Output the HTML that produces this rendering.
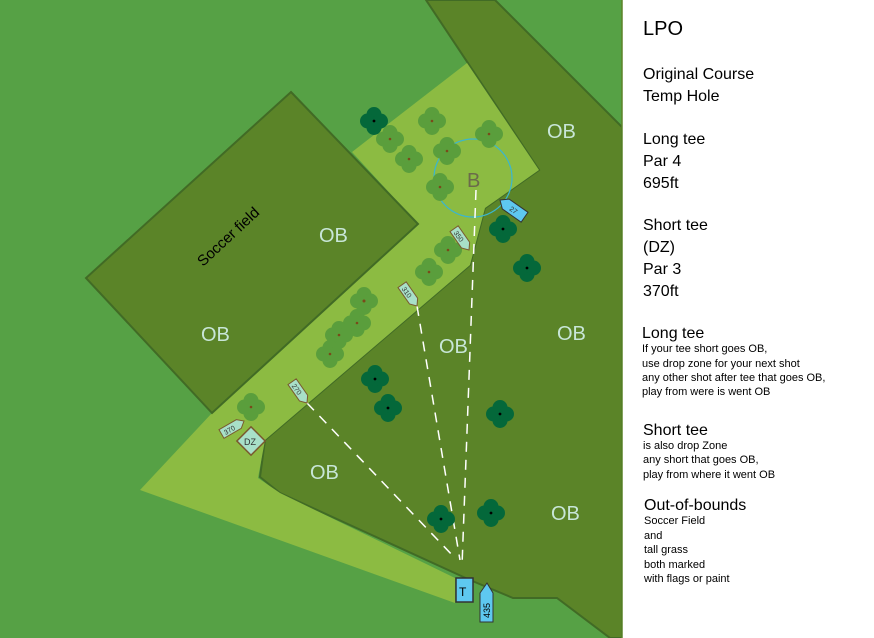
<!DOCTYPE html>
<html><head><meta charset="utf-8"><style>
html,body{margin:0;padding:0;width:874px;height:638px;overflow:hidden;background:#fff;}
svg{display:block}
.t{font-family:"Liberation Sans",sans-serif;}
</style></head><body>
<svg width="874" height="638" viewBox="0 0 874 638" xmlns="http://www.w3.org/2000/svg">
<defs>
<g id="lt"><circle cx="0" cy="-6.5" r="7.5"/><circle cx="0" cy="6.5" r="7.5"/><circle cx="-6.5" cy="0" r="7.5"/><circle cx="6.5" cy="0" r="7.5"/></g>
</defs>
<rect x="0" y="0" width="622" height="638" fill="#56a145"/>
<polygon points="426,0 495,0 622,127 622,638 610,638 557,598 513,598 470,580 280,493 260,477 265,440 470,265 485,208 539,170" fill="#5b8428" stroke="#416b25" stroke-width="2"/>
<polygon points="352,152 467,63 539,170 485,208 470,265 265,440 258,478 280,493 455,578 455,603 140,490 212,413 418,224" fill="#8cbb42"/>
<polygon points="291,92 418,224 212,413 86,278" fill="#5b8428" stroke="#416b25" stroke-width="2"/>
<circle cx="473" cy="178" r="39" fill="none" stroke="#3ab6cf" stroke-width="1.2"/>
<text class="t" x="467" y="187" font-size="20" fill="#6b6b4a">B</text>
<g stroke="#fff" stroke-width="1.5" stroke-dasharray="10,8" fill="none">
<line x1="476" y1="190" x2="462" y2="566"/>
<line x1="417" y1="306" x2="460" y2="560"/>
<line x1="307" y1="403" x2="455" y2="558"/>
</g>
<g fill="#5a9e3c">
<use href="#lt" x="432" y="121"/><use href="#lt" x="390" y="139"/><use href="#lt" x="489" y="134"/>
<use href="#lt" x="409" y="159"/><use href="#lt" x="447" y="151"/><use href="#lt" x="440" y="187"/>
<use href="#lt" x="448" y="250"/><use href="#lt" x="429" y="272"/><use href="#lt" x="364" y="301"/>
<use href="#lt" x="357" y="323"/><use href="#lt" x="339" y="335"/><use href="#lt" x="330" y="354"/>
<use href="#lt" x="251" y="407"/>
</g>
<g fill="#7a4a1a">
<circle cx="432" cy="121" r="1.3"/><circle cx="390" cy="139" r="1.3"/><circle cx="489" cy="134" r="1.3"/>
<circle cx="409" cy="159" r="1.3"/><circle cx="447" cy="151" r="1.3"/><circle cx="440" cy="187" r="1.3"/>
<circle cx="448" cy="250" r="1.3"/><circle cx="429" cy="272" r="1.3"/><circle cx="364" cy="301" r="1.5"/>
<circle cx="357" cy="323" r="1.3"/><circle cx="339" cy="335" r="1.3"/><circle cx="330" cy="354" r="1.3"/>
<circle cx="251" cy="407" r="1.3"/>
</g>
<g fill="#04683a">
<use href="#lt" x="374" y="121"/><use href="#lt" x="503" y="229"/><use href="#lt" x="527" y="268"/>
<use href="#lt" x="375" y="379"/><use href="#lt" x="388" y="408"/><use href="#lt" x="500" y="414"/>
<use href="#lt" x="441" y="519"/><use href="#lt" x="491" y="513"/>
</g>
<g fill="#000">
<circle cx="374" cy="121" r="1.4"/><circle cx="503" cy="229" r="1.4"/><circle cx="527" cy="268" r="1.4"/>
<circle cx="375" cy="379" r="1.4"/><circle cx="388" cy="408" r="1.4"/><circle cx="500" cy="414" r="1.4"/>
<circle cx="441" cy="519" r="1.4"/><circle cx="491" cy="513" r="1.4"/>
</g>
<g class="t" font-size="7" fill="#333">
<g transform="translate(469,250) rotate(-125)"><polygon points="0,0 6,-5 26,-5 26,5 6,5" fill="#a8e0c8" stroke="#7a5a30"/><text x="9" y="3" transform="rotate(180 16 0)">350</text></g>
<g transform="translate(417,306) rotate(-125)"><polygon points="0,0 6,-5 26,-5 26,5 6,5" fill="#a8e0c8" stroke="#7a5a30"/><text x="9" y="3" transform="rotate(180 16 0)">310</text></g>
<g transform="translate(307,403) rotate(-125)"><polygon points="0,0 6,-5 26,-5 26,5 6,5" fill="#a8e0c8" stroke="#7a5a30"/><text x="9" y="3" transform="rotate(180 16 0)">270</text></g>
<g transform="translate(244,421) rotate(150)"><polygon points="0,0 6,-5 26,-5 26,5 6,5" fill="#a8e0c8" stroke="#7a5a30"/><text x="9" y="3" transform="rotate(180 16 0)">370</text></g>
<g transform="translate(500,200) rotate(35)"><polygon points="0,0 7,-6 30,-6 30,6 7,6" fill="#5ec8f0" stroke="#333"/><text x="13" y="3">27</text></g>
</g>
<g transform="translate(251,441) rotate(45)"><rect x="-10" y="-10" width="20" height="20" fill="#a8e0c8" stroke="#7a5a30" stroke-width="1.5"/></g>
<text class="t" x="244" y="445" font-size="9" fill="#333">DZ</text>
<rect x="456" y="578" width="17" height="24" fill="#5ec8f0" stroke="#333" stroke-width="1.5"/>
<text class="t" x="459" y="596" font-size="12" fill="#000">T</text>
<polygon points="480,622 480,593 487,583 493,593 493,622" fill="#5ec8f0" stroke="#333"/>
<text class="t" font-size="9" fill="#000" transform="translate(490,618) rotate(-90)">435</text>
<g class="t" font-size="20" fill="#c8e6d8">
<text x="319" y="242">OB</text>
<text x="201" y="341">OB</text>
<text x="547" y="138">OB</text>
<text x="439" y="353">OB</text>
<text x="557" y="340">OB</text>
<text x="310" y="479">OB</text>
<text x="551" y="520">OB</text>
</g>
<text class="t" font-size="15" fill="#000" transform="translate(203,267) rotate(-43)">Soccer field</text>
<rect x="622" y="0" width="252" height="638" fill="#fff"/>
<line x1="622" y1="0" x2="622" y2="638" stroke="#5b8428" stroke-width="1.5"/>
<g class="t" fill="#000">
<text x="643" y="35" font-size="20">LPO</text>
<text x="643" y="79" font-size="16">Original Course</text>
<text x="643" y="101" font-size="16">Temp Hole</text>
<text x="643" y="144" font-size="16">Long tee</text>
<text x="643" y="166" font-size="16">Par 4</text>
<text x="643" y="188" font-size="16">695ft</text>
<text x="643" y="230" font-size="16">Short tee</text>
<text x="643" y="252" font-size="16">(DZ)</text>
<text x="643" y="274" font-size="16">Par 3</text>
<text x="643" y="296" font-size="16">370ft</text>
<text x="642" y="338" font-size="16">Long tee</text>
<text x="642" y="352" font-size="11">If your tee short goes OB,</text>
<text x="642" y="367" font-size="11">use drop zone for your next shot</text>
<text x="642" y="381" font-size="11">any other shot after tee  that goes OB,</text>
<text x="642" y="395" font-size="11">play from were is went OB</text>
<text x="643" y="435" font-size="16">Short tee</text>
<text x="643" y="449" font-size="11">is also drop Zone</text>
<text x="643" y="463" font-size="11">any short that goes OB,</text>
<text x="643" y="478" font-size="11">play from where it went OB</text>
<text x="644" y="510" font-size="16">Out-of-bounds</text>
<text x="644" y="524" font-size="11">Soccer Field</text>
<text x="644" y="539" font-size="11">and</text>
<text x="644" y="553" font-size="11">tall grass</text>
<text x="644" y="568" font-size="11">both marked</text>
<text x="644" y="582" font-size="11">with flags or paint</text>
</g>
</svg>
</body></html>
